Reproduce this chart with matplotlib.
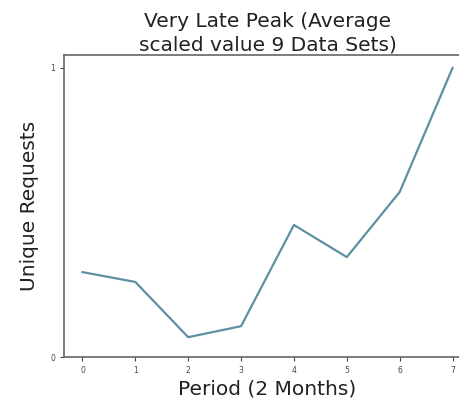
import matplotlib
matplotlib.use("Agg")
import matplotlib.pyplot as plt

periods = [0, 1, 2, 3, 4, 5, 6, 7]
values = [0.294, 0.26, 0.069, 0.107, 0.457, 0.346, 0.571, 1.0]
yticks = [0, 1]

fig = plt.figure(figsize=(4.6, 4.04), dpi=100)
ax = fig.add_axes([0.139, 0.116, 0.885, 0.748])
ax.plot(periods, values, color="#5f8fa2", linewidth=1.6)
ax.set_xlim(-0.35, 7.35)
ax.set_ylim(0, 1.045)
ax.set_xticks(periods)
ax.set_yticks(yticks)
ax.tick_params(labelsize=5.5, colors="#444444", length=3)
for s in ax.spines.values():
    s.set_color("#666666")
    s.set_linewidth(1.2)
ax.spines["right"].set_visible(False)
ax.set_xlabel("Period (2 Months)", fontsize=14.5, color="#222222", labelpad=3)
ax.set_ylabel("Unique Requests", fontsize=14.5, color="#222222", labelpad=8)
ax.set_title("Very Late Peak (Average\nscaled value 9 Data Sets)", fontsize=14.5,
             color="#222222", pad=3, linespacing=1.3)
fig.savefig("out.png", dpi=100)
